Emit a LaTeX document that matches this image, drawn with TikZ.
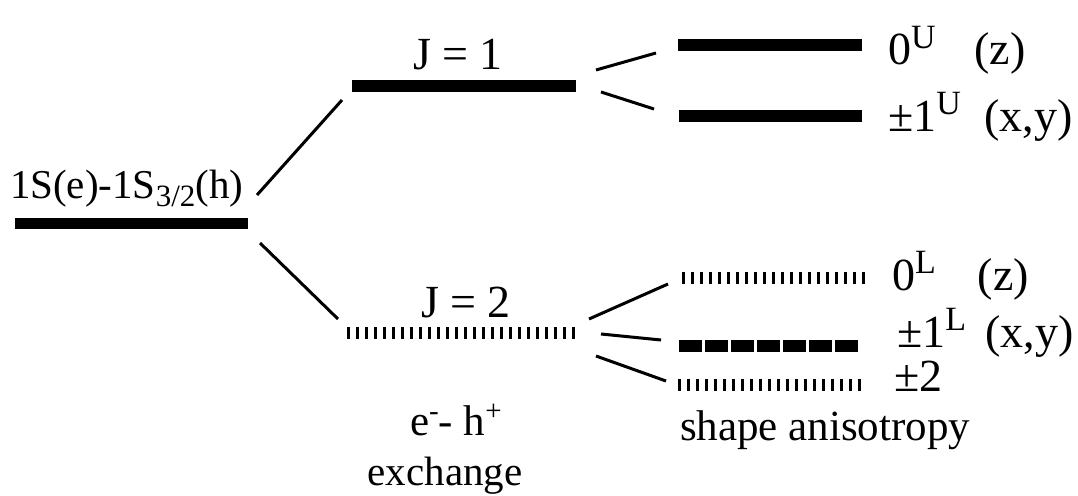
\documentclass[tikz,border=0pt]{standalone}
\usepackage{fontspec}
\setmainfont{Liberation Serif}
\newcommand{\mysup}[1]{\raisebox{17pt}{\fontsize{34}{34}\selectfont #1}}
\newcommand{\mysub}[1]{\raisebox{-8pt}{\fontsize{31}{31}\selectfont #1}}
\newcommand{\smsup}[1]{\raisebox{15pt}{\fontsize{29}{29}\selectfont #1}}
\begin{document}
\begin{tikzpicture}[x=1pt,y=-1pt,
  lbl/.style={inner sep=0pt,outer sep=0pt,font=\fontsize{41}{48}\selectfont},
  biglbl/.style={lbl,font=\fontsize{46}{52}\selectfont},
  midlbl/.style={lbl,font=\fontsize{43}{50}\selectfont},
  solidbar/.style={line width=11.5pt,line cap=butt},
  tickbar/.style={line width=12pt,line cap=butt,dash pattern=on 3pt off 6pt},
  dashbar/.style={line width=12pt,line cap=butt,dash pattern=on 23pt off 3pt},
  conn/.style={line width=3pt}]
\useasboundingbox (0,0) rectangle (1078,495);
% levels
\coordinate (g1) at (15,223.5); \coordinate (g2) at (248,223.5);
\coordinate (j1a) at (352,86); \coordinate (j1b) at (576,86);
\coordinate (j2a) at (347,333); \coordinate (j2b) at (575,333);
\coordinate (u0a) at (678,45); \coordinate (u0b) at (862,45);
\coordinate (u1a) at (679,116); \coordinate (u1b) at (862,116);
\coordinate (l0a) at (682,278); \coordinate (l0b) at (865,278);
\coordinate (l1a) at (679,346); \coordinate (l1b) at (858,346);
\coordinate (l2a) at (678,385); \coordinate (l2b) at (861,385);
\draw[solidbar] (g1) -- (g2);
\draw[solidbar] (j1a) -- (j1b);
\draw[tickbar] (j2a) -- (j2b);
\draw[solidbar] (u0a) -- (u0b);
\draw[solidbar] (u1a) -- (u1b);
\draw[tickbar] (l0a) -- (l0b);
\draw[dashbar] (l1a) -- (l1b);
\draw[tickbar] (l2a) -- (l2b);
% connectors
\coordinate (c1s) at (257,195); \coordinate (c1e) at (342,100);
\coordinate (c2s) at (260,243); \coordinate (c2e) at (338,319);
\coordinate (c3s) at (596,70); \coordinate (c3e) at (656,53);
\coordinate (c4s) at (601,92); \coordinate (c4e) at (654,109);
\coordinate (c5s) at (589,319); \coordinate (c5e) at (668,284);
\coordinate (c6s) at (601,334); \coordinate (c6e) at (661,340);
\coordinate (c7s) at (596,356); \coordinate (c7e) at (666,381);
\draw[conn] (c1s) -- (c1e);
\draw[conn] (c2s) -- (c2e);
\draw[conn] (c3s) -- (c3e);
\draw[conn] (c4s) -- (c4e);
\draw[conn] (c5s) -- (c5e);
\draw[conn] (c6s) -- (c6e);
\draw[conn] (c7s) -- (c7e);
% labels
\node[lbl,anchor=base west] (tg) at (10,198) {1S(e)-1S\mysub{3/2}(h)};
\node[biglbl,anchor=base] (tj1) at (458,70) {J = 1};
\node[biglbl,anchor=base] (tj2) at (466,317) {J = 2};
\node[biglbl,anchor=base west] (tu0) at (888,65) {0\mysup{U}\hspace{39pt}(z)};
\node[biglbl,anchor=base west] (tu1) at (888,131) {\textpm1\mysup{U}\hspace{12pt} (x,y)};
\node[biglbl,anchor=base west] (tl0) at (892,290) {0\mysup{L}\hspace{42pt}(z)};
\node[biglbl,anchor=base west] (tl1) at (897,347) {\textpm1\mysup{L}\hspace{8pt} (x,y)};
\node[biglbl,anchor=base west] (tl2) at (894,391) {\textpm2};
\node[midlbl,anchor=base west] (teh) at (410,435) {e\smsup{-}- h\smsup{+}};
\node[lbl,anchor=base] (tex) at (445,485) {exchange};
\node[midlbl,anchor=base west] (tsa) at (680,440) {shape anisotropy};
\end{tikzpicture}
\end{document}
